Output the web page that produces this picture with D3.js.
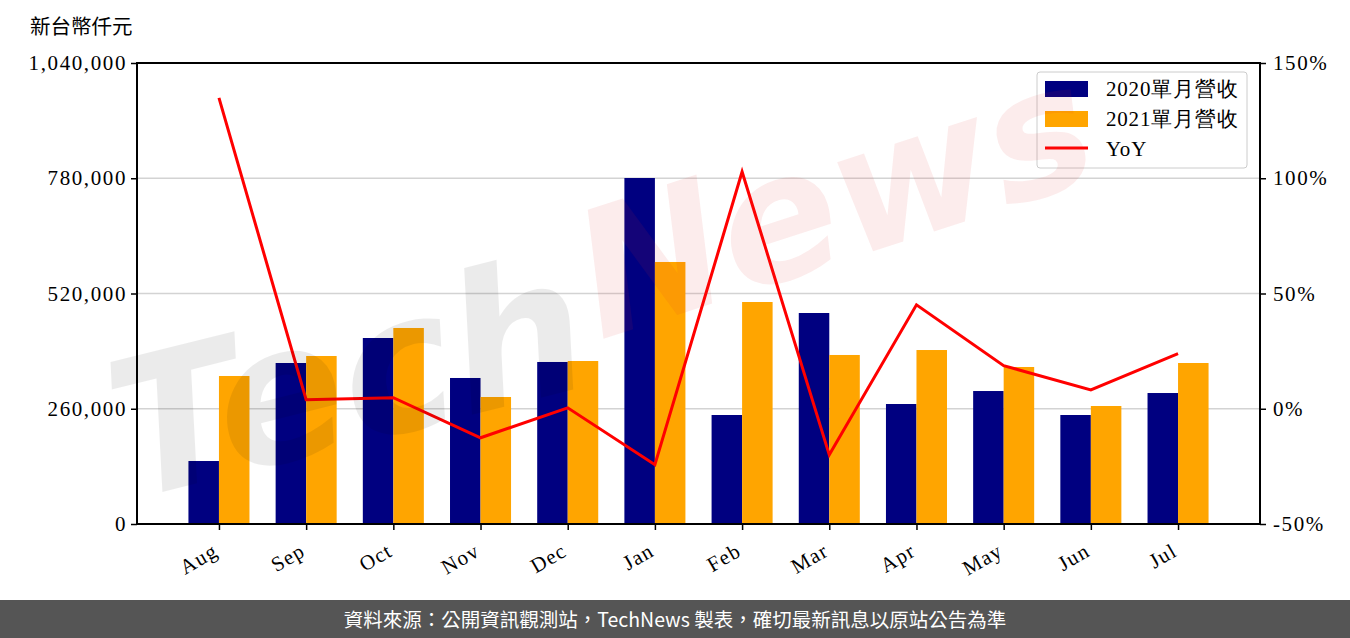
<!DOCTYPE html>
<html><head><meta charset="utf-8">
<script src="https://cdn.jsdelivr.net/npm/d3@7"></script>
<style>
html,body{margin:0;padding:0;background:#fff;}
svg{display:block;}
</style></head>
<body>
<svg id="chart" width="1350" height="638"></svg>
<script>
const months = ["Aug","Sep","Oct","Nov","Dec","Jan","Feb","Mar","Apr","May","Jun","Jul"];
const rev2020 = [142100,363200,419600,329400,365500,780600,245900,476000,270700,300000,245900,295500];
const rev2021 = [333900,379000,442200,286500,367700,591100,500800,381300,392500,354200,266200,363200];
const yoy = [134.9,3.9,4.8,-12.6,0.4,-24.3,102.8,-20.0,45.1,18.7,8.2,23.9];
const leftTicks = [0,260000,520000,780000,1040000];
const rightTicks = [-50,0,50,100,150];
const seriesNames = ["2020單月營收","2021單月營收","YoY"];
const unitLabel = "新台幣仟元";
const footerText = "資料來源：公開資訊觀測站，TechNews 製表，確切最新訊息以原站公告為準";

const svg = d3.select("#chart");
const L = 137, R = 1260, T = 63, B = 524;
const serif = "'Liberation Serif','DejaVu Serif',serif";
const cjk = "'Noto Sans CJK TC','Noto Sans',sans-serif";

const x = d3.scaleLinear().domain([-0.94, months.length - 1 + 0.94]).range([L, R]);
const yL = d3.scaleLinear().domain([0, 1040000]).range([B, T]);
const yR = d3.scaleLinear().domain([-50, 150]).range([B, T]);
const bw = 0.35;

// grid
svg.append("g").selectAll("line").data(leftTicks.slice(1, -1)).join("line")
  .attr("x1", L).attr("x2", R).attr("y1", d => yL(d)).attr("y2", d => yL(d))
  .attr("stroke", "#d3d3d3").attr("stroke-width", 1.5);

// bars
svg.append("g").selectAll("rect").data(rev2020).join("rect")
  .attr("x", (d, i) => x(i - bw)).attr("width", (d, i) => x(i) - x(i - bw))
  .attr("y", d => yL(d)).attr("height", d => yL(0) - yL(d)).attr("fill", "#000080");
svg.append("g").selectAll("rect").data(rev2021).join("rect")
  .attr("x", (d, i) => x(i)).attr("width", (d, i) => x(i + bw) - x(i))
  .attr("y", d => yL(d)).attr("height", d => yL(0) - yL(d)).attr("fill", "#FFA500");

// yoy line
svg.append("path").datum(yoy)
  .attr("d", d3.line().x((d, i) => x(i)).y(d => yR(d)))
  .attr("fill", "none").attr("stroke", "#ff0000").attr("stroke-width", 3);

// axes
const axL = svg.append("g").attr("transform", `translate(${L},0)`)
  .call(d3.axisLeft(yL).tickValues(leftTicks).tickFormat(d3.format(",")).tickSize(6).tickSizeOuter(0));
const axR = svg.append("g").attr("transform", `translate(${R},0)`)
  .call(d3.axisRight(yR).tickValues(rightTicks).tickFormat(d => d + "%").tickSize(6).tickSizeOuter(0));
const axB = svg.append("g").attr("transform", `translate(0,${B})`)
  .call(d3.axisBottom(x).tickValues(d3.range(months.length)).tickFormat(i => months[i]).tickSize(6).tickSizeOuter(0));
[axL, axR, axB].forEach(a => {
  a.select(".domain").remove();
  a.selectAll(".tick line").attr("stroke", "#000").attr("stroke-width", 1.5);
  a.selectAll("text").attr("font-family", serif).attr("font-size", 21).attr("fill", "#000");
});
axL.selectAll("text").attr("x", -10).attr("letter-spacing", 1.6);
axR.selectAll("text").attr("x", 13).attr("letter-spacing", 1.6);
axB.selectAll("text").attr("text-anchor", "end").attr("dy", 0).attr("y", 0)
  .attr("letter-spacing", 1.2)
  .attr("transform", "translate(0,31) rotate(-30)");

// frame
svg.append("rect").attr("x", L).attr("y", T).attr("width", R - L).attr("height", B - T)
  .attr("fill", "none").attr("stroke", "#000").attr("stroke-width", 2);

// unit label
svg.append("text").attr("x", 30).attr("y", 34).text(unitLabel)
  .attr("font-family", cjk).attr("font-size", 20.5).attr("fill", "#000");

// legend
const lg = svg.append("g");
lg.append("rect").attr("x", 1037).attr("y", 72).attr("width", 210).attr("height", 96).attr("rx", 3)
  .attr("fill", "#fff").attr("fill-opacity", 0.8).attr("stroke", "#ccc").attr("stroke-width", 1);
const colors = ["#000080", "#FFA500"];
[0, 1].forEach(i => {
  lg.append("rect").attr("x", 1045).attr("y", 81 + i * 30).attr("width", 43).attr("height", 16).attr("fill", colors[i]);
});
lg.append("line").attr("x1", 1045).attr("x2", 1088).attr("y1", 148).attr("y2", 148).attr("stroke", "#ff0000").attr("stroke-width", 3);
seriesNames.forEach((s, i) => {
  lg.append("text").attr("x", 1106).attr("y", 96 + i * 30).text(s)
    .attr("font-family", serif).attr("font-size", 21).attr("letter-spacing", 0.8).attr("fill", "#000");
});

// watermark
const wm = svg.append("g").style("pointer-events", "none");
wm.append("text").text("Tech").attr("transform", "translate(130,500) rotate(-14)")
  .attr("font-family", "'DejaVu Sans',sans-serif").attr("font-style", "italic").attr("font-weight", "bold")
  .attr("font-size", 190).attr("fill", "#000").attr("fill-opacity", 0.08);
wm.append("text").text("News").attr("transform", "translate(600,340) rotate(-18)")
  .attr("font-family", "'DejaVu Sans',sans-serif").attr("font-style", "italic").attr("font-weight", "bold")
  .attr("font-size", 175).attr("fill", "#e03030").attr("fill-opacity", 0.09);

// footer
svg.append("rect").attr("x", 0).attr("y", 600).attr("width", 1350).attr("height", 38).attr("fill", "#555555");
svg.append("text").attr("x", 675).attr("y", 627).attr("text-anchor", "middle").text(footerText)
  .attr("font-family", cjk).attr("font-size", 19.5).attr("fill", "#fff");
</script>
</body></html>
